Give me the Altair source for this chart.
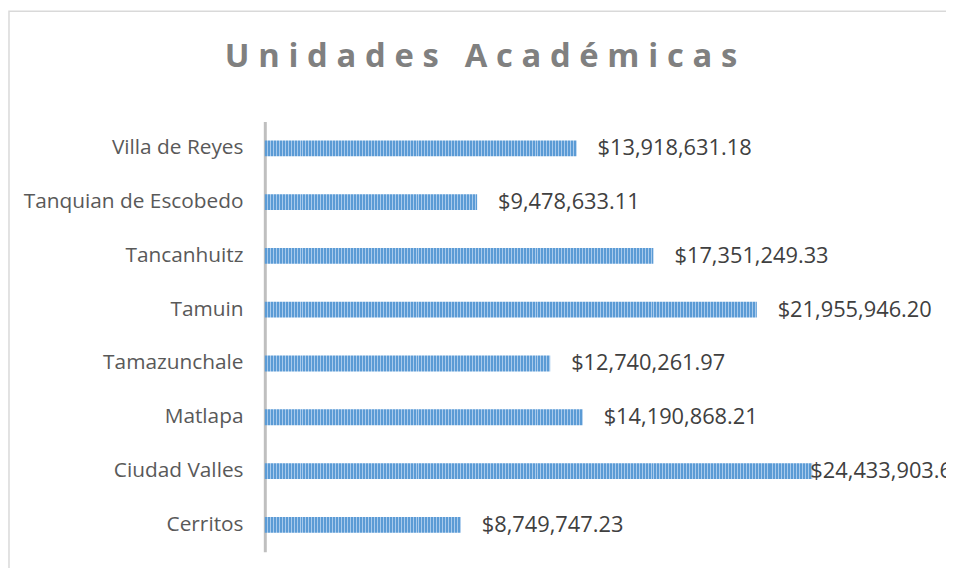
import altair as alt
import pandas as pd

categories = ["Villa de Reyes", "Tanquian de Escobedo", "Tancanhuitz", "Tamuin",
              "Tamazunchale", "Matlapa", "Ciudad Valles", "Cerritos"]
values = [13918631.18, 9478633.11, 17351249.33, 21955946.20,
          12740261.97, 14190868.21, 24433903.67, 8749747.23]
labels = ["$13,918,631.18", "$9,478,633.11", "$17,351,249.33", "$21,955,946.20",
          "$12,740,261.97", "$14,190,868.21", "$24,433,903.67", "$8,749,747.23"]
title_text = "Unidades Académicas"

df = pd.DataFrame({"cat": categories, "val": values, "label": labels})

W, H = 678, 434
XMAX = 30000000
FONT = "Open Sans"

# letter-spaced title (thin + hair space between letters)
GAP = "\u2009\u200a"
spaced_title = GAP.join(list(title_text))

x_scale = alt.Scale(domain=[0, XMAX], nice=False)
y_enc = alt.Y("cat:N", sort=categories, title=None,
              scale=alt.Scale(paddingInner=0.69, paddingOuter=0.345),
              axis=alt.Axis(domain=True, domainColor="#BFBFBF", domainWidth=3,
                            ticks=False, labelFont=FONT, labelFontSize=21,
                            labelColor="#595959", labelPadding=22, labelLimit=0,
                            grid=False))
x_enc = alt.X("val:Q", scale=x_scale, axis=None)


def stripes(width_px, dark=2, light=1):
    stops = []
    p = 0
    while p < width_px:
        a = p / width_px
        m = min(p + dark, width_px) / width_px
        b = min(p + dark + light, width_px) / width_px
        stops += [alt.GradientStop(offset=a, color="#5B9BD5"),
                  alt.GradientStop(offset=m, color="#5B9BD5"),
                  alt.GradientStop(offset=m, color="#A8CAEC"),
                  alt.GradientStop(offset=b, color="#A8CAEC")]
        p += dark + light
    return alt.Gradient(gradient="linear", x1=0, x2=1, y1=0, y2=0, stops=stops)


base = alt.Chart(df)
layers = []
for c, v in zip(categories, values):
    wpx = v / XMAX * W
    layers.append(
        base.transform_filter(alt.datum.cat == c)
        .mark_bar(size=16, fill=stripes(wpx))
        .encode(x=x_enc, y=y_enc)
    )

text_main = base.transform_filter(alt.datum.cat != "Ciudad Valles").mark_text(
    align="left", baseline="middle", dx=21, font=FONT, fontSize=22, color="#404040"
).encode(x=x_enc, y=y_enc, text="label:N")

text_cv = base.transform_filter(alt.datum.cat == "Ciudad Valles").mark_text(
    align="left", baseline="middle", dx=-2, font=FONT, fontSize=22, color="#404040"
).encode(x=x_enc, y=y_enc, text="label:N")

frame = base.transform_filter(alt.datum.cat == "Cerritos").mark_rect(
    fill="transparent", stroke="#D9D9D9", strokeWidth=1.5
).encode(x=alt.value(-258), x2=alt.value(W + 60),
         y=alt.value(-111), y2=alt.value(H + 60))

chart = alt.layer(frame, *layers, text_main, text_cv).properties(
    width=W, height=H,
    background="white",
    autosize=alt.AutoSizeParams(type="none"),
    padding={"left": 259, "top": 112, "right": 9, "bottom": 14},
    title=alt.TitleParams(spaced_title, font=FONT, fontSize=33,
                          fontWeight="bold", color="#808080", anchor="middle",
                          frame="group", baseline="alphabetic", dx=-121,
                          offset=0, dy=90),
).configure_view(stroke="transparent", strokeWidth=0)

chart.save("out.html", embed_options={"renderer": "svg", "actions": False})
